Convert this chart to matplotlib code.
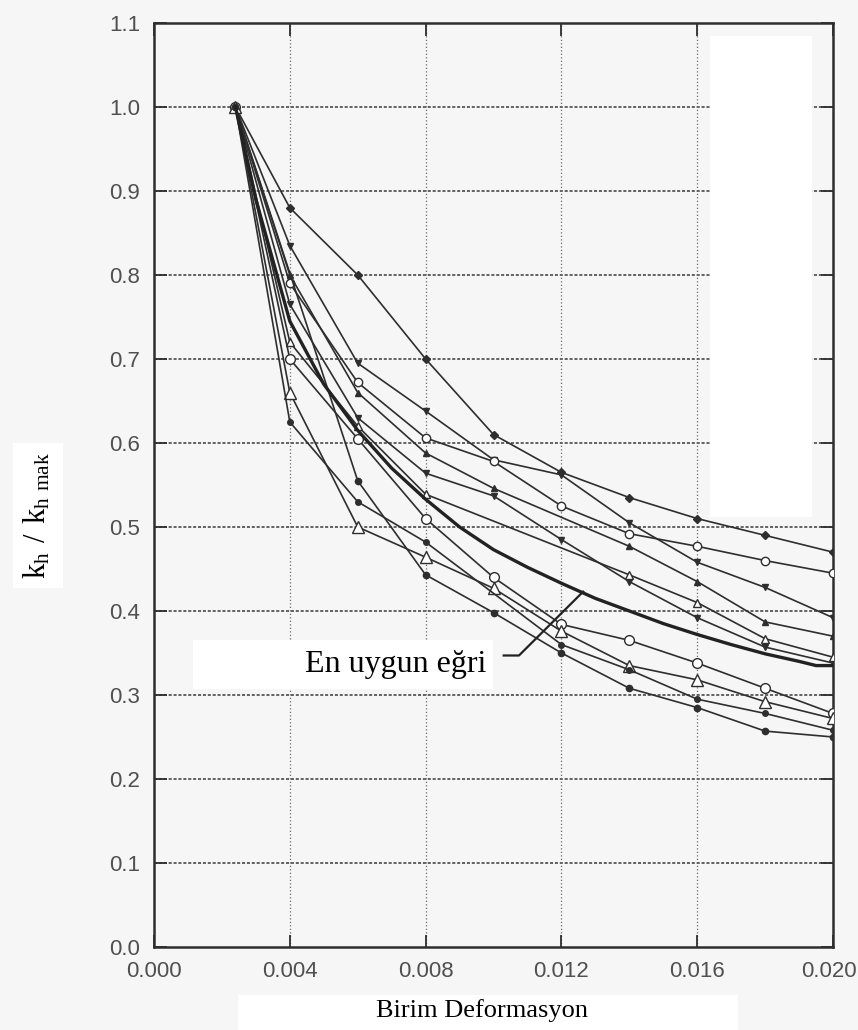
import matplotlib
matplotlib.use("Agg")
import matplotlib.pyplot as plt
import matplotlib.transforms as mtransforms
import numpy as np
from matplotlib.patches import Rectangle

# strain values where the test points were recorded
STRAIN = [0.0024, 0.004, 0.006, 0.008, 0.010, 0.012, 0.014, 0.016, 0.018, 0.020]

# kh / kh_max for each test (None = no point at that strain)
kh_a = [1.0, 0.88, 0.80, 0.70, 0.61, 0.565, 0.535, 0.51, 0.49, 0.47]
kh_b = [1.0, 0.835, 0.695, 0.638, 0.58, 0.562, 0.505, 0.458, 0.428, 0.392]
kh_c = [1.0, 0.79, 0.672, 0.606, 0.578, 0.525, 0.492, 0.477, 0.46, 0.445]
kh_d = [1.0, 0.80, 0.66, 0.588, 0.546, None, 0.477, 0.435, 0.387, 0.37]
kh_e = [1.0, 0.765, 0.63, 0.564, 0.537, 0.485, 0.435, 0.392, 0.357, 0.338]
kh_f = [1.0, 0.72, 0.62, 0.539, None, None, 0.443, 0.41, 0.367, 0.345]
kh_g = [1.0, 0.70, 0.605, 0.51, 0.44, 0.384, 0.365, 0.338, 0.308, 0.278]
kh_h = [1.0, 0.66, 0.50, 0.464, 0.427, 0.376, 0.335, 0.318, 0.292, 0.272]
kh_i = [1.0, 0.625, 0.53, 0.482, None, 0.36, 0.33, 0.295, 0.278, 0.258]
kh_j = [1.0, None, 0.555, 0.443, 0.398, 0.35, 0.308, 0.285, 0.257, 0.25]

# best-fit curve
fit_strain = [0.0024, 0.003, 0.004, 0.005, 0.006, 0.007, 0.008, 0.009, 0.010, 0.011,
              0.012, 0.013, 0.014, 0.015, 0.016, 0.017, 0.018, 0.019, 0.0195, 0.020]
fit_kh = [1.0, 0.89, 0.745, 0.67, 0.615, 0.57, 0.533, 0.50, 0.473, 0.452,
          0.433, 0.415, 0.40, 0.385, 0.372, 0.36, 0.349, 0.34, 0.335, 0.335]

x_ticks = [0.000, 0.004, 0.008, 0.012, 0.016, 0.020]
y_ticks = [0.0, 0.1, 0.2, 0.3, 0.4, 0.5, 0.6, 0.7, 0.8, 0.9, 1.0, 1.1]

INK = "#2e2e2e"
BG = "#f6f6f6"

plt.rcParams["font.family"] = ["Liberation Sans", "DejaVu Sans"]
plt.rcParams["mathtext.fontset"] = "custom"
plt.rcParams["mathtext.rm"] = "Liberation Serif"

fig = plt.figure(figsize=(8.58, 10.30), dpi=100, facecolor=BG)
ax = fig.add_axes([0.1795, 0.0806, 0.7914, 0.8971], facecolor=BG)

ax.set_xlim(0, 0.020)
ax.set_ylim(0, 1.1)

# dotted grid, horizontals heavier than verticals
for v in y_ticks[1:-1]:
    ax.axhline(v, color="#3a3a3a", lw=1.1, ls=(0, (2, 1.2)), zorder=1)
for v in x_ticks[1:-1]:
    ax.axvline(v, color="#6a6a6a", lw=0.9, ls=(0, (1, 1.8)), zorder=1)


def draw_test(y, marker, filled, ms=5.5):
    x = np.array(STRAIN, float)
    y = np.array([np.nan if v is None else v for v in y], float)
    ok = ~np.isnan(y)
    ax.plot(x[ok], y[ok], color=INK, lw=1.2, marker=marker, ms=ms,
            mfc=INK if filled else "white", mec=INK, mew=1.0, zorder=3)


draw_test(kh_a, "D", True, 4.5)
draw_test(kh_b, "v", True, 5)
draw_test(kh_c, "o", False, 6)
draw_test(kh_d, "^", True, 5)
draw_test(kh_e, "v", True, 4)
draw_test(kh_f, "^", False, 6)
draw_test(kh_g, "o", False, 7)
draw_test(kh_h, "^", False, 8)
draw_test(kh_i, "o", True, 4)
draw_test(kh_j, "o", True, 4.5)

ax.plot(fit_strain, fit_kh, color="#222222", lw=2.4, zorder=4)

# label for the best-fit curve on a white patch
ax.add_patch(Rectangle((0.00115, 0.307), 0.00884, 0.058, facecolor="white",
                       edgecolor="none", zorder=5))
ax.text(0.00978, 0.336, "En uygun eğri", family="Liberation Serif", fontsize=23,
        ha="right", va="center", color="black", zorder=6)
ax.plot([0.0103, 0.01075, 0.01264], [0.347, 0.347, 0.423], color="#222222",
        lw=1.6, zorder=6)

# blank patch in the upper right
ax.add_patch(Rectangle((0.01638, 0.512), 0.0030, 0.573, facecolor="white",
                       edgecolor="none", zorder=5))

ax.set_xticks(x_ticks)
ax.set_xticklabels([f"{v:.3f}" for v in x_ticks])
ax.set_yticks(y_ticks)
ax.set_yticklabels([f"{v:.1f}" for v in y_ticks])
ax.tick_params(direction="in", length=9, width=1.3, top=True, right=True,
               labelsize=16, labelcolor="#505050", color=INK)
ax.tick_params(axis="x", pad=10)
ax.tick_params(axis="y", pad=10)
# keep the last strain label inside the figure
last = ax.get_xticklabels()[-1]
last.set_transform(last.get_transform()
                   + mtransforms.ScaledTranslation(-4 / 100, 0, fig.dpi_scale_trans))
for s in ax.spines.values():
    s.set_color(INK)
    s.set_linewidth(1.8)

# axis titles on white patches
fig.patches.append(Rectangle((238 / 858, 0), 500 / 858, 35 / 1030, facecolor="white",
                             edgecolor="none", transform=fig.transFigure, zorder=0))
fig.patches.append(Rectangle((13 / 858, 1 - 588 / 1030), 50 / 858, 145 / 1030,
                             facecolor="white", edgecolor="none",
                             transform=fig.transFigure, zorder=0))
fig.text(482 / 858, 1 - 1011 / 1030, "Birim Deformasyon", family="Liberation Serif",
         fontsize=19, ha="center", va="center", color="black")
fig.text(37 / 858, 1 - 515 / 1030, r"$\mathrm{k_h\ /\ k_{h\ mak}}$",
         family="Liberation Serif", fontsize=22, rotation=90,
         ha="center", va="center", color="black")

fig.savefig("out.png", dpi=100, facecolor=BG)
